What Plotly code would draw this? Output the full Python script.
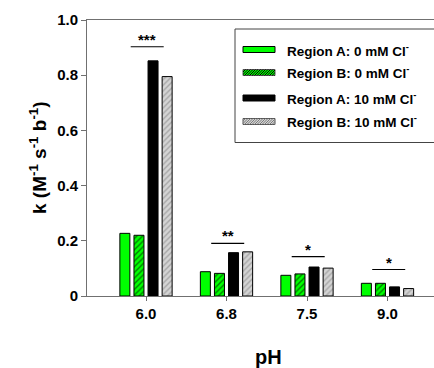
import plotly.graph_objects as go

# ---- data ----
ph_labels = ["6.0", "6.8", "7.5", "9.0"]
series_names = ["Region A: 0 mM Cl<sup>-</sup>", "Region B: 0 mM Cl<sup>-</sup>",
                "Region A: 10 mM Cl<sup>-</sup>", "Region B: 10 mM Cl<sup>-</sup>"]
regionA_0 = [0.227, 0.088, 0.075, 0.046]
regionB_0 = [0.220, 0.082, 0.080, 0.046]
regionA_10 = [0.852, 0.157, 0.105, 0.033]
regionB_10 = [0.795, 0.160, 0.101, 0.027]
sig_labels = ["***", "**", "*", "*"]
sig_heights = [0.903, 0.191, 0.143, 0.096]
y_ticks = [0, 0.2, 0.4, 0.6, 0.8, 1.0]
y_ticktext = ["0", "0.2", "0.4", "0.6", "0.8", "1.0"]

FONT = "Liberation Sans, Arial, sans-serif"
W, H = 434, 368
ML, MR, MT, MB = 87, 0, 20, 72
PW, PH = W - ML - MR, H - MT - MB
XPX = 80.5  # pixels per category step
X0PX = 146  # pixel of first category

def px2x(px):
    return (px - ML) / PW

def px2y(py):
    return (H - MB - py) / PH

x_idx = list(range(len(ph_labels)))
series_vals = [regionA_0, regionB_0, regionA_10, regionB_10]
styles = [
    dict(color="#00ff00", pattern=None),
    dict(color="#00ff00", pattern=dict(shape="/", fgcolor="#000000", bgcolor="#00ff00", size=4, solidity=0.35)),
    dict(color="#000000", pattern=None),
    dict(color="#d4d4d4", pattern=dict(shape="/", fgcolor="#7a7a7a", bgcolor="#d4d4d4", size=4, solidity=0.35)),
]

fig = go.Figure()
for name, vals, st in zip(series_names, series_vals, styles):
    marker = dict(color=st["color"], line=dict(color="#000000", width=1))
    if st["pattern"]:
        marker["pattern"] = st["pattern"]
    fig.add_trace(go.Bar(x=x_idx, y=vals, name=name, marker=marker, showlegend=False))

shapes = []
annotations = []
# significance bars
for i, (lab, h) in enumerate(zip(sig_labels, sig_heights)):
    shapes.append(dict(type="line", xref="x", yref="y", x0=i - 0.19, x1=i + 0.22, y0=h, y1=h,
                       line=dict(color="#000000", width=1.2)))
    annotations.append(dict(x=i + 0.015, y=h, xref="x", yref="y", text=lab, showarrow=False,
                            yanchor="bottom", yshift=-3,
                            font=dict(family=FONT, size=15, color="#000000", weight="bold")))

# manual legend (box runs off the right edge, as in the reference)
shapes.append(dict(type="rect", xref="paper", yref="paper", x0=px2x(235), x1=px2x(600),
                   y0=px2y(142.5), y1=px2y(29), line=dict(color="#444444", width=1),
                   fillcolor="#ffffff", layer="above"))
leg_y = [49.5, 72.5, 98, 121.5]
sx0, sx1, sh = 243, 275, 6
for k, (name, st) in enumerate(zip(series_names, styles)):
    cy = leg_y[k]
    y0, y1 = cy - sh / 2, cy + sh / 2
    fill = st["pattern"]["bgcolor"] if st["pattern"] else st["color"]
    shapes.append(dict(type="rect", xref="paper", yref="paper", x0=px2x(sx0), x1=px2x(sx1),
                       y0=px2y(y1), y1=px2y(y0), fillcolor=fill,
                       line=dict(color="#000000" if not st["pattern"] else "#555555", width=1),
                       layer="above"))
    if st["pattern"]:
        segs = []
        t = sx0 - sh
        while t < sx1:
            ax, ay = t, y1
            bx, by = t + sh, y0
            if ax < sx0:
                ay = y1 - (sx0 - ax)
                ax = sx0
            if bx > sx1:
                by = y0 + (bx - sx1)
                bx = sx1
            if bx > ax:
                segs.append(f"M{px2x(ax):.5f},{px2y(ay):.5f}L{px2x(bx):.5f},{px2y(by):.5f}")
            t += 2.5
        shapes.append(dict(type="path", xref="paper", yref="paper", path="".join(segs),
                           line=dict(color=st["pattern"]["fgcolor"], width=1), layer="above"))
    annotations.append(dict(x=px2x(285), y=px2y(cy), xref="paper", yref="paper", text=name,
                            showarrow=False, xanchor="left", yanchor="middle",
                            font=dict(family=FONT, size=13.5, color="#000000", weight="bold")))

# axis titles
annotations.append(dict(x=px2x(268), y=px2y(357), xref="paper", yref="paper", text="pH",
                        showarrow=False, xanchor="center", yanchor="middle",
                        font=dict(family=FONT, size=20, color="#000000", weight="bold")))
annotations.append(dict(x=px2x(38), y=px2y(158), xref="paper", yref="paper",
                        text="k (M<sup>-1</sup> s<sup>-1</sup> b<sup>-1</sup>)", textangle=-90,
                        showarrow=False, xanchor="center", yanchor="middle",
                        font=dict(family=FONT, size=19, color="#000000", weight="bold")))

fig.update_layout(
    width=W, height=H,
    margin=dict(l=ML, r=MR, t=MT, b=MB, pad=0),
    paper_bgcolor="#ffffff", plot_bgcolor="#ffffff",
    barmode="group", bargap=0.3, bargroupgap=0.29,
    shapes=shapes, annotations=annotations,
    font=dict(family=FONT, color="#000000"),
)
x_lo = (ML - X0PX) / XPX
x_hi = (W - MR - X0PX) / XPX
fig.update_xaxes(range=[x_lo, x_hi], tickvals=x_idx, ticktext=ph_labels,
                 showline=True, linecolor="#707070", linewidth=1, mirror=True,
                 ticks="outside", ticklen=4, tickcolor="#707070", showgrid=False, zeroline=False,
                 tickfont=dict(family=FONT, size=15, color="#000000", weight="bold"))
fig.update_yaxes(range=[0, 1.0], tickvals=y_ticks, ticktext=y_ticktext,
                 showline=True, linecolor="#707070", linewidth=1,
                 ticks="outside", ticklen=5, tickcolor="#707070", showgrid=False, zeroline=False,
                 tickfont=dict(family=FONT, size=15, color="#000000", weight="bold"))

fig.write_html("out.html", config={"displayModeBar": False})

# remove default page margin so the figure sits at the window origin
with open("out.html", "r", encoding="utf-8") as f:
    html = f.read()
html = html.replace("<head>", "<head><style>html,body{margin:0;padding:0;overflow:hidden;}</style>", 1)
with open("out.html", "w", encoding="utf-8") as f:
    f.write(html)
